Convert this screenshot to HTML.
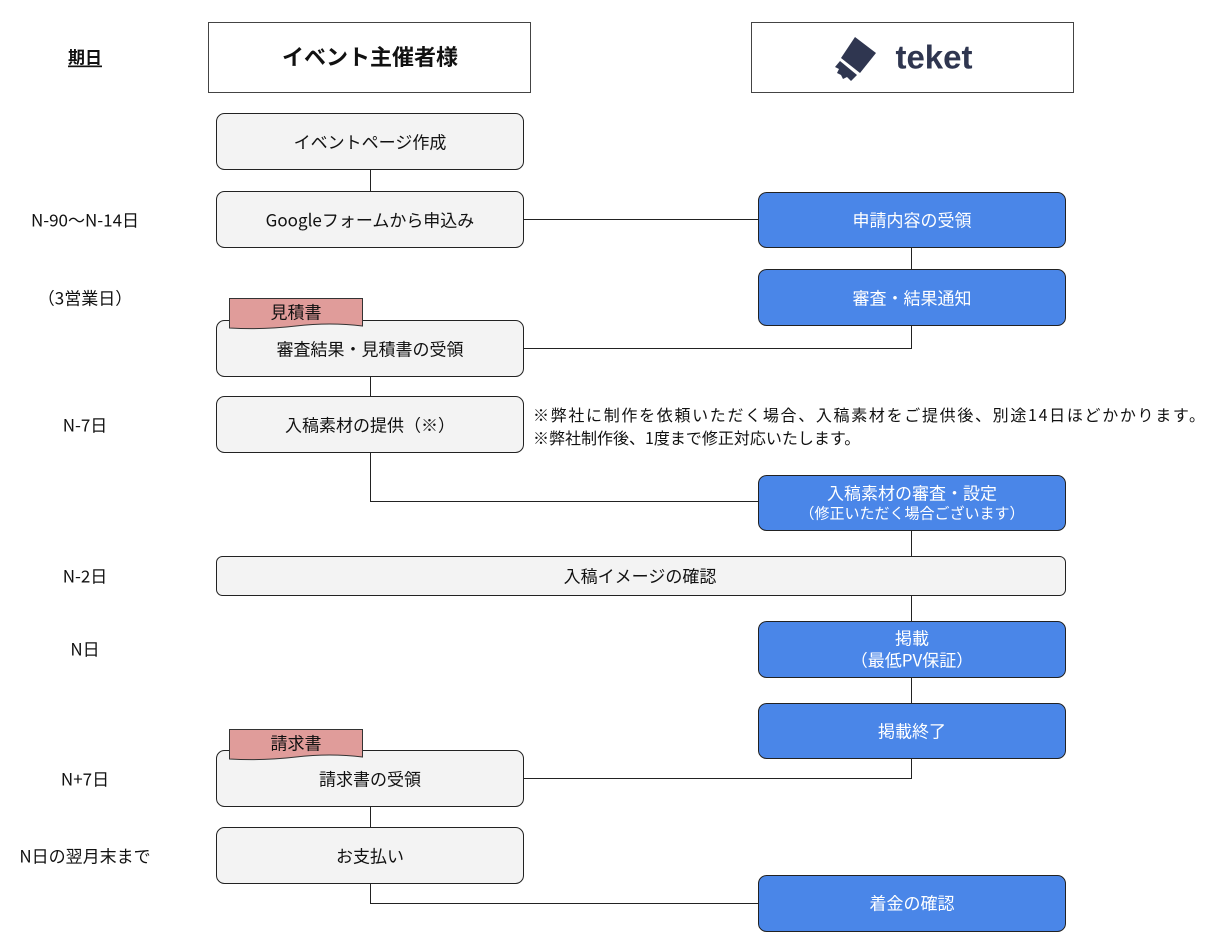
<!DOCTYPE html>
<html><head><meta charset="utf-8"><style>
html,body{margin:0;padding:0;background:#fff;}
svg{display:block;font-family:"Noto Sans CJK JP","Liberation Sans",sans-serif;}
.g{fill:#f3f3f3;stroke:#222;stroke-width:1;}
.b{fill:#4a86e8;stroke:#222;stroke-width:1;}
.l{stroke:#222;stroke-width:1;fill:none;}
.t{font-size:17px;fill:#111;text-anchor:middle;dominant-baseline:central;}
.w{font-size:17px;fill:#fff;text-anchor:middle;dominant-baseline:central;}
.d{font-size:17px;fill:#111;text-anchor:middle;dominant-baseline:central;}
</style></head><body>
<svg width="1216" height="948" viewBox="0 0 1216 948">
<rect x="208.5" y="22.5" width="322" height="70" fill="#fff" stroke="#444"/>
<rect x="751.5" y="22.5" width="322" height="70" fill="#fff" stroke="#444"/>
<text x="370" y="56" class="t" style="font-size:22px;font-weight:bold">イベント主催者様</text>
<text x="85" y="56" class="t" style="font-size:17px;font-weight:bold;text-decoration:underline">期日</text>
<g fill="#2f3650">
<path d="M855 37 L876 53 L860 73 L841 58 Z"/>
<path d="M840 61 L857 75 L851 81 L847 77 L843 79 L841 75 L837 73 L839 69 L835 67 Z"/>
</g>
<text x="934" y="57" class="t" style="font-size:33px;font-weight:bold;fill:#2f3650;font-family:'Liberation Sans',sans-serif">teket</text>

<path class="l" d="M370.5 169 V191 M523 219.5 H758 M911.5 247 V269 M911.5 325 V348.5 H523 M370.5 376 V396 M370.5 452 V501.5 H758 M911.5 530 V556 M911.5 595 V621 M911.5 677 V703 M911.5 758 V778.5 H523 M370.5 806 V827 M370.5 883 V903.5 H758"/>

<rect class="g" x="216.5" y="113.5" width="307" height="56" rx="8"/>
<text x="370" y="141" class="t">イベントページ作成</text>
<rect class="g" x="216.5" y="191.5" width="307" height="56" rx="8"/>
<text x="370" y="219" class="t">Googleフォームから申込み</text>
<rect class="g" x="216.5" y="320.5" width="307" height="56" rx="8"/>
<text x="370" y="348" class="t">審査結果・見積書の受領</text>
<rect class="g" x="216.5" y="396.5" width="307" height="56" rx="8"/>
<text x="370" y="424" class="t">入稿素材の提供（※）</text>
<rect class="g" x="216.5" y="556.5" width="849" height="39" rx="6"/>
<text x="640" y="575" class="t">入稿イメージの確認</text>
<rect class="g" x="216.5" y="750.5" width="307" height="56" rx="8"/>
<text x="370" y="778" class="t">請求書の受領</text>
<rect class="g" x="216.5" y="827.5" width="307" height="56" rx="8"/>
<text x="370" y="855" class="t">お支払い</text>

<path d="M229.5 298.5 H362.5 V326 Q330 322 296 326 T229.5 328 Z" fill="#e09c9a" stroke="#333"/>
<text x="296" y="311" class="t">見積書</text>
<path d="M229.5 729.5 H362.5 V757 Q330 753 296 757 T229.5 759 Z" fill="#e09c9a" stroke="#333"/>
<text x="296" y="742" class="t">請求書</text>

<rect class="b" x="758.5" y="192.5" width="307" height="55" rx="8"/>
<text x="912" y="219" class="w">申請内容の受領</text>
<rect class="b" x="758.5" y="269.5" width="307" height="56" rx="8"/>
<text x="912" y="297" class="w">審査・結果通知</text>
<rect class="b" x="758.5" y="475.5" width="307" height="55" rx="8"/>
<text x="912" y="492" class="w">入稿素材の審査・設定</text>
<text x="912" y="513" class="w" style="font-size:15px">（修正いただく場合ございます）</text>
<rect class="b" x="758.5" y="621.5" width="307" height="56" rx="8"/>
<text x="912" y="637" class="w">掲載</text>
<text x="912" y="659" class="w">（最低PV保証）</text>
<rect class="b" x="758.5" y="703.5" width="307" height="55" rx="8"/>
<text x="912" y="730" class="w">掲載終了</text>
<rect class="b" x="758.5" y="875.5" width="307" height="56" rx="8"/>
<text x="912" y="902" class="w">着金の確認</text>

<text x="533" y="414" textLength="672" style="font-size:16px;fill:#111;dominant-baseline:central">※弊社に制作を依頼いただく場合、入稿素材をご提供後、別途14日ほどかかります。</text>
<text x="533" y="437" style="font-size:16px;fill:#111;dominant-baseline:central">※弊社制作後、1度まで修正対応いたします。</text>

<text x="85" y="219" class="d">N-90〜N-14日</text>
<text x="85" y="297" class="d">（3営業日）</text>
<text x="85" y="424" class="d">N-7日</text>
<text x="85" y="575" class="d">N-2日</text>
<text x="85" y="648" class="d">N日</text>
<text x="85" y="778" class="d">N+7日</text>
<text x="85" y="855" class="d">N日の翌月末まで</text>
</svg>
</body></html>
